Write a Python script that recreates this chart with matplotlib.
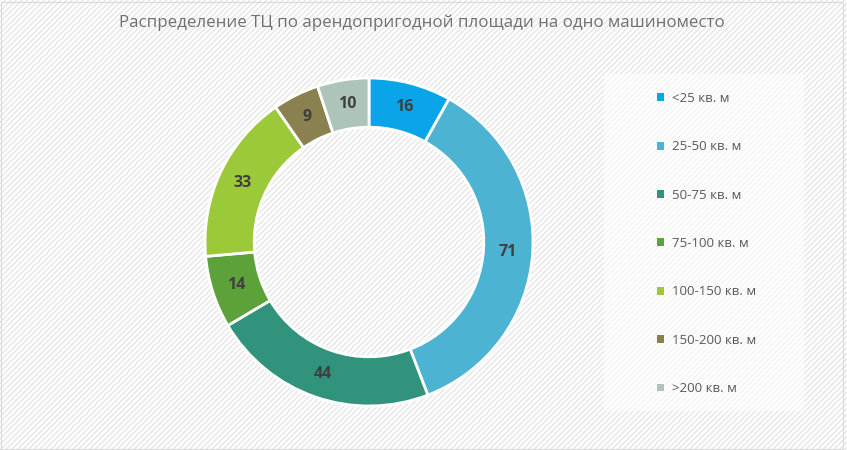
import matplotlib
matplotlib.use('Agg')
import matplotlib.pyplot as plt
from matplotlib.patches import Rectangle
import numpy as np

plt.rcParams['font.family'] = ['Open Sans', 'DejaVu Sans']
plt.rcParams['hatch.linewidth'] = 1.0

title = 'Распределение ТЦ по арендопригодной площади на одно машиноместо'
categories = ['<25 кв. м', '25-50 кв. м', '50-75 кв. м', '75-100 кв. м',
              '100-150 кв. м', '150-200 кв. м', '>200 кв. м']
values = [16, 71, 44, 14, 33, 9, 10]
colors = ['#0aa5e8', '#4db3d2', '#31937b', '#5ca13a', '#9bc93a', '#8a8050', '#adc4b8']

W, H = 847, 450
fig = plt.figure(figsize=(W / 100, H / 100), dpi=100)

# striped background
fig.patches.append(Rectangle((0, 0), 1, 1, transform=fig.transFigure,
                             facecolor='white', edgecolor='#e6e6e6', lw=0,
                             hatch='//////', zorder=-10))
fig.patches.append(Rectangle((0.5 / W, 1.5 / H), (W - 5) / W, (H - 3) / H,
                             transform=fig.transFigure, facecolor='none',
                             edgecolor='#d9d9d9', lw=0.8, zorder=-9))

# legend box
fig.patches.append(Rectangle((604 / W, (H - 411) / H), 200 / W, 337 / H,
                             transform=fig.transFigure, facecolor='white',
                             alpha=0.55, edgecolor='none', zorder=-8))

fig.text(422 / W, 1 - 23 / H, title, ha='center', va='center',
         fontsize=12.2, color='#707070')

cx, cy, r = 369, 242, 164
ax = fig.add_axes([(cx - r) / W, (H - cy - r) / H, 2 * r / W, 2 * r / H])
wedges, _ = ax.pie(values, colors=colors, startangle=90, counterclock=False,
                   radius=1, wedgeprops=dict(width=0.3, edgecolor='white', linewidth=2))
ax.set_xlim(-1, 1)
ax.set_ylim(-1, 1)
ax.set_aspect('equal')
ax.axis('off')

for w, v in zip(wedges, values):
    ang = np.deg2rad((w.theta1 + w.theta2) / 2)
    ax.text(0.85 * np.cos(ang), 0.85 * np.sin(ang), str(v), ha='center', va='center',
            fontsize=11.5, fontweight='bold', color='#404040')

leg = fig.legend(wedges, categories, loc='upper left',
                 bbox_to_anchor=(657 / W, 1 - 92 / H), frameon=False,
                 fontsize=9.5, labelcolor='#595959', handlelength=0.55,
                 handleheight=0.55, handletextpad=0.6, labelspacing=2.68,
                 borderpad=0, borderaxespad=0)
for h in leg.legend_handles:
    h.set_edgecolor('none')

fig.savefig('out.png', dpi=100)
